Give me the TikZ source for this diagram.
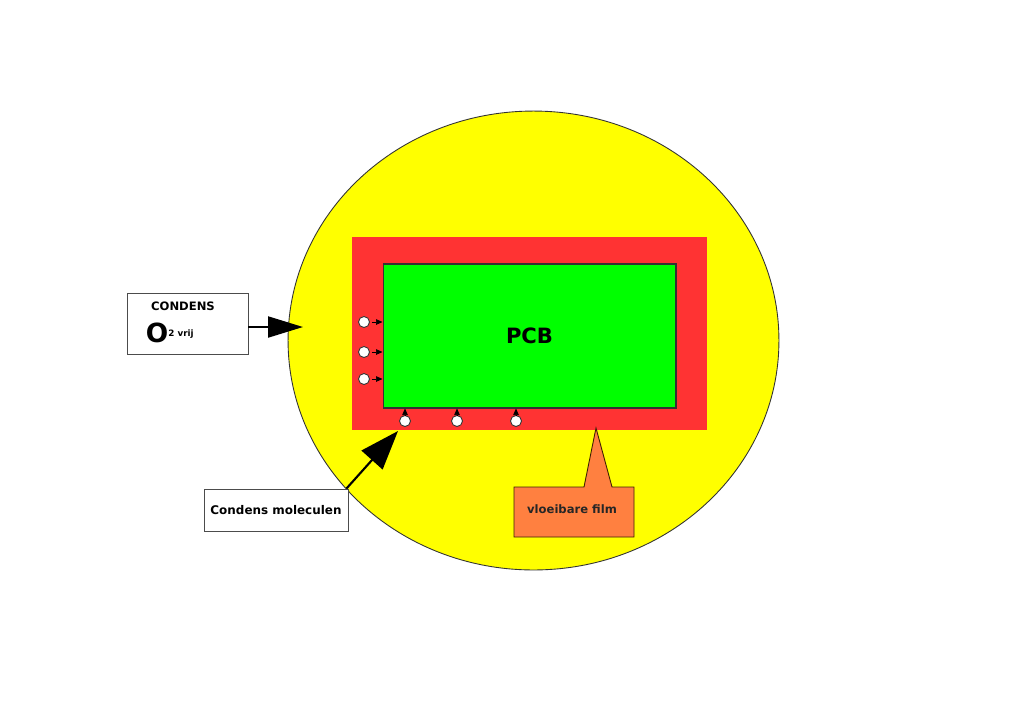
\documentclass[tikz,border=0pt]{standalone}
\usepackage{fontspec}
\setmainfont{DejaVu Sans}
\usetikzlibrary{shapes.geometric,arrows.meta,calc}
\definecolor{dropyellow}{HTML}{FFFF00}
\definecolor{filmred}{HTML}{FF3333}
\definecolor{pcbgreen}{HTML}{00FF00}
\definecolor{callorange}{HTML}{FF8040}
\definecolor{outline}{HTML}{402000}
\tikzset{
  px/.style={x=0.02cm,y=-0.02cm},
  labelbox/.style={draw=black!70,fill=white,line width=0.5pt,inner sep=0pt},
  molecule/.style={circle,draw=black!80,fill=white,line width=0.5pt,minimum size=0.22cm,inner sep=0pt},
  smallarrow/.style={-{Triangle[length=0.13cm,width=0.11cm]},line width=0.4pt},
  bigarrow/.style={line width=1.2pt}
}
\begin{document}
\begin{tikzpicture}[px]
\useasboundingbox (0,0) rectangle (1024,701);
\fill[white] (0,0) rectangle (1024,701);
% droplet
\node[ellipse,draw=black!80,fill=dropyellow,line width=0.5pt,minimum width=9.82cm,minimum height=9.18cm,inner sep=0pt] (drop) at (533.5,340.5) {};
% liquid film
\node[fill=filmred,minimum width=7.1cm,minimum height=3.86cm,inner sep=0pt] (film) at (529.5,333.5) {};
% PCB
\node[fill=pcbgreen,draw=black!80,line width=0.6pt,minimum width=5.86cm,minimum height=2.88cm,inner sep=0pt,font=\bfseries\fontsize{12}{14}\selectfont] (pcb) at (529.5,336) {PCB};
% molecules left
\node[molecule] (m1) at (364,322) {};
\node[molecule] (m2) at (364,352) {};
\node[molecule] (m3) at (364,379) {};
\draw[smallarrow] (m1.east) ++(2,0) -- (m1 -| pcb.west);
\draw[smallarrow] (m2.east) ++(2,0) -- (m2 -| pcb.west);
\draw[smallarrow] (m3.east) ++(2,0) -- (m3 -| pcb.west);
% molecules bottom
\node[molecule] (b1) at (405,421) {};
\node[molecule] (b2) at (457,421) {};
\node[molecule] (b3) at (516,421) {};
\draw[smallarrow] (b1.north) -- (b1 |- pcb.south);
\draw[smallarrow] (b2.north) -- (b2 |- pcb.south);
\draw[smallarrow] (b3.north) -- (b3 |- pcb.south);
% CONDENS box
\node[labelbox,minimum width=2.42cm,minimum height=1.22cm] (condens) at (187.5,323.5) {};
\node[font=\bfseries\fontsize{6.6}{8}\selectfont] (condtxt) at (183,306) {CONDENS};
\node[font=\bfseries\fontsize{15}{17}\selectfont,inner sep=0pt] (otxt) at (157,333) {O};
\node[font=\bfseries\fontsize{5}{6}\selectfont,inner sep=0pt,anchor=base west] (vrij) at (168,336) {2 vrij};
\coordinate (condtip) at (303,327);
\draw[bigarrow,-{Triangle[length=0.7cm,width=0.42cm]}] (condens.east |- condtip) -- (condtip);
% Condens moleculen box
\node[labelbox,minimum width=2.88cm,minimum height=0.84cm,font=\bfseries\fontsize{6.8}{8}\selectfont] (mol) at (276,510) {Condens moleculen};
\coordinate (moltip) at (398,431);
\draw[bigarrow,-{Triangle[length=0.78cm,width=0.56cm]}] (mol.north east) ++(-2,0) -- (moltip);
% vloeibare film callout
\coordinate (filmpt) at (596,428);
\filldraw[fill=callorange,draw=outline,line width=0.5pt] (514,487) -- (584,487) -- (filmpt) -- (612,487) -- (634,487) -- (634,537) -- (514,537) -- cycle;
\node[font=\bfseries\fontsize{6.6}{8}\selectfont,text=black!85] (filmlbl) at (572,509) {vloeibare film};
\end{tikzpicture}
\end{document}
